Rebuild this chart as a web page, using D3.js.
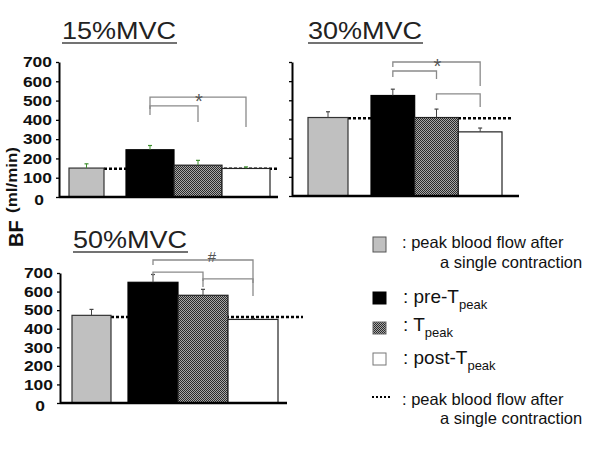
<!DOCTYPE html>
<html><head><meta charset="utf-8">
<script src="https://cdn.jsdelivr.net/npm/d3@7"></script>
<style>body{margin:0;background:#fff}svg{display:block}</style>
</head><body>
<svg id="c" width="600" height="450"></svg>
<script>
// ---- data ----
const panels = ["15%MVC", "30%MVC", "50%MVC"];
const categories = ["single", "pre", "peak", "post"];
const values15 = [150, 245, 165, 148];
const errors15 = [22, 22, 25, 8];
const values30 = [410, 525, 410, 335];
const errors30 = [30, 33, 44, 20];
const values50 = [472, 650, 580, 450];
const errors50 = [32, 42, 32, 5];
const singleLine = [147, 406, 463];
const yTicks = [0, 100, 200, 300, 400, 500, 600, 700];
const brackets15 = [
  {a: "pre", b: "post", top: 518, legA: 456, legB: 363, label: "*"},
  {a: "pre", b: "peak", top: 472, legA: 425, legB: 389, label: ""}
];
const brackets30 = [
  {a: "pre", b: "post", top: 700, legA: 674, legB: 575, label: "*"},
  {a: "pre", b: "peak", top: 653, legA: 622, legB: 611, label: ""},
  {a: "peak", b: "post", top: 533, legA: 502, legB: 465, label: ""}
];
const brackets50 = [
  {a: "pre", b: "post", top: 770, legA: 743, legB: 646, label: "#"},
  {a: "pre", b: "peak", top: 705, legA: 684, legB: 657, label: ""},
  {a: "peak", b: "post", top: 668, legA: 625, legB: 576, label: ""}
];
const legendLabels = [
  [": peak blood flow after", "a single contraction"],
  [": pre-T", "peak"],
  [": T", "peak"],
  [": post-T", "peak"],
  [": peak blood flow after", "a single contraction"]
];
const yLabelMain = "BF";
const yLabelUnit = "(ml/min)";

// ---- layout ----
const layout = [
  {x0: 59, x1: 278, yTop: 62, yBot: 197, single: [69, 104], trial: [126, 270], labels: true, tx: 62, ty: 39, dashEnd: 278, err: "#3f8f2f"},
  {x0: 292, x1: 519, yTop: 62, yBot: 196, single: [308, 348], trial: [371, 502], labels: false, tx: 308, ty: 39, dashEnd: 512, err: "#444"},
  {x0: 60, x1: 287, yTop: 273, yBot: 403, single: [72, 111], trial: [128, 278], labels: true, tx: 73, ty: 248, dashEnd: 303, err: "#444"}
];
const allValues = [values15, values30, values50];
const allErrors = [errors15, errors30, errors50];
const allBrackets = [brackets15, brackets30, brackets50];

const svg = d3.select("#c");
const defs = svg.append("defs");
const pat = defs.append("pattern").attr("id", "hatch").attr("width", 2).attr("height", 2).attr("patternUnits", "userSpaceOnUse");
pat.append("rect").attr("width", 2).attr("height", 2).attr("fill", "#a8a8a8");
pat.append("rect").attr("width", 1).attr("height", 1).attr("fill", "#2a2a2a");
pat.append("rect").attr("x", 1).attr("y", 1).attr("width", 1).attr("height", 1).attr("fill", "#2a2a2a");

const fills = {single: "#c0c0c0", pre: "#000", peak: "url(#hatch)", post: "#fff"};
const strokes = {single: "#333", pre: "#000", peak: "#222", post: "#222"};
const FONT = "Arial, 'Liberation Sans', sans-serif";

panels.forEach((title, i) => {
  const L = layout[i];
  const vals = allValues[i], errs = allErrors[i];
  const g = svg.append("g");
  const y = d3.scaleLinear().domain([0, 700]).range([L.yBot, L.yTop]);
  const xt = d3.scaleBand().domain(categories.slice(1)).range(L.trial).padding(0);
  const xPos = c => c === "single" ? L.single[0] : xt(c);
  const xW = c => c === "single" ? L.single[1] - L.single[0] : xt.bandwidth();
  const xC = c => xPos(c) + xW(c) / 2;

  // title
  g.append("text").attr("x", L.tx).attr("y", L.ty).text(title)
    .attr("font-family", FONT).attr("font-size", 24).attr("fill", "#222")
    .attr("textLength", 114).attr("lengthAdjust", "spacingAndGlyphs");
  g.append("line").attr("x1", L.tx).attr("x2", L.tx + 115).attr("y1", L.ty + 4).attr("y2", L.ty + 4)
    .attr("stroke", "#444").attr("stroke-width", 1.5);

  // dashed reference line (behind bars)
  g.append("line").attr("x1", L.single[1]).attr("x2", L.dashEnd)
    .attr("y1", y(singleLine[i])).attr("y2", y(singleLine[i]))
    .attr("stroke", "#000").attr("stroke-width", 2.5).attr("stroke-dasharray", "3,2");

  // bars
  const data = categories.map((c, k) => ({c, v: vals[k], e: errs[k]}));
  g.selectAll("rect.bar").data(data).join("rect").attr("class", "bar")
    .attr("x", d => xPos(d.c)).attr("width", d => xW(d.c))
    .attr("y", d => y(d.v)).attr("height", d => y(0) - y(d.v))
    .attr("fill", d => fills[d.c]).attr("stroke", d => strokes[d.c]).attr("stroke-width", 1.2);

  // error bars
  const eg = g.selectAll("g.err").data(data).join("g").attr("class", "err");
  eg.append("line").attr("x1", d => xC(d.c)).attr("x2", d => xC(d.c))
    .attr("y1", d => y(d.v)).attr("y2", d => y(d.v + d.e)).attr("stroke", L.err).attr("stroke-width", 1);
  eg.append("line").attr("x1", d => xC(d.c) - 2).attr("x2", d => xC(d.c) + 2)
    .attr("y1", d => y(d.v + d.e)).attr("y2", d => y(d.v + d.e)).attr("stroke", L.err).attr("stroke-width", 1.2);

  // brackets
  allBrackets[i].forEach(b => {
    const xa = xC(b.a), xb = xC(b.b);
    g.append("path").attr("d", `M${xa},${y(b.legA)}V${y(b.top)}H${xb}V${y(b.legB)}`)
      .attr("fill", "none").attr("stroke", "#8a8a8a").attr("stroke-width", 1.3);
    if (b.label) {
      g.append("text").attr("x", (xa + xb) / 2 + (b.label === "#" ? 9 : 1)).attr("y", y(b.top) + (b.label === "#" ? 2 : 11))
        .attr("text-anchor", "middle").attr("font-family", FONT).attr("font-size", b.label === "#" ? 15 : 20)
        .attr("fill", "#555").text(b.label);
    }
  });

  // axes
  const ax = d3.axisLeft(y).tickValues(yTicks).tickSize(3).tickSizeOuter(0)
    .tickFormat(L.labels ? d3.format("d") : () => "");
  const ag = g.append("g").attr("transform", `translate(${L.x0},0)`).call(ax);
  ag.select(".domain").attr("stroke", "#000").attr("stroke-width", 2);
  ag.selectAll(".tick line").attr("stroke", "#000").attr("stroke-width", 1.3);
  ag.selectAll(".tick text").attr("font-family", FONT).attr("font-size", 14).attr("font-weight", "bold")
    .attr("fill", "#111").attr("x", -7)
    .attr("textLength", d => String(d).length * 9.7).attr("lengthAdjust", "spacingAndGlyphs")
    .attr("dx", d => d === 0 ? -8 : 0).attr("dy", d => d === 0 ? "0.55em" : "0.34em");
  g.append("line").attr("x1", L.x0).attr("x2", L.x1).attr("y1", L.yBot).attr("y2", L.yBot)
    .attr("stroke", "#000").attr("stroke-width", 2.5);
});

// y label
svg.append("text").attr("transform", "translate(23,247) rotate(-90)").text(yLabelMain)
  .attr("font-family", FONT).attr("font-weight", "bold").attr("font-size", 20).attr("fill", "#111");
svg.append("text").attr("transform", "translate(17,213) rotate(-90)").text(yLabelUnit)
  .attr("font-family", FONT).attr("font-weight", "bold").attr("font-size", 14).attr("fill", "#111")
  .attr("textLength", 66).attr("lengthAdjust", "spacingAndGlyphs");

// legend
const lg = svg.append("g");
const boxes = [
  {y: 237, h: 15, fill: "#c0c0c0", stroke: "#555"},
  {y: 292, h: 12, fill: "#000", stroke: "#000"},
  {y: 322, h: 12, fill: "url(#hatch)", stroke: "#666"},
  {y: 353, h: 12, fill: "#fff", stroke: "#777"}
];
boxes.forEach(b => {
  lg.append("rect").attr("x", 373).attr("y", b.y).attr("width", 13).attr("height", b.h)
    .attr("fill", b.fill).attr("stroke", b.stroke).attr("stroke-width", 1);
});
lg.append("line").attr("x1", 372).attr("x2", 390).attr("y1", 397).attr("y2", 397)
  .attr("stroke", "#000").attr("stroke-width", 2).attr("stroke-dasharray", "2,2");

function twoLine(lbl, y1, y2) {
  lg.append("text").attr("x", 402).attr("y", y1).text(lbl[0]).attr("font-family", FONT).attr("font-size", 16.5).attr("fill", "#111");
  lg.append("text").attr("x", 440).attr("y", y2).text(lbl[1]).attr("font-family", FONT).attr("font-size", 16.5).attr("fill", "#111");
}
twoLine(legendLabels[0], 248, 268);
twoLine(legendLabels[4], 405, 424);
[[legendLabels[1], 303], [legendLabels[2], 331], [legendLabels[3], 364]].forEach(([lbl, yy]) => {
  const t = lg.append("text").attr("x", 403).attr("y", yy).attr("font-family", FONT).attr("font-size", 19).attr("fill", "#111");
  t.append("tspan").text(lbl[0]);
  t.append("tspan").attr("font-size", 13).attr("dy", 6).text(lbl[1]);
});
</script>
</body></html>
